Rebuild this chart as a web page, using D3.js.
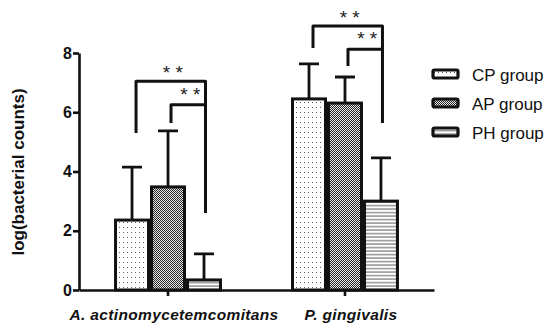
<!DOCTYPE html>
<html>
  <head>
    <style>
      body {
        margin: 0;
        background: #fff;
        font-family: "Liberation Sans", Arial, sans-serif;
      }
      .axis path, .axis line {
        stroke: #111;
        stroke-width: 2.6px;
      }
      .axis text {
        font-weight: bold;
        font-size: 16px;
        fill: #111;
      }
    </style>
  </head>
  <body>
    <script src="https://d3js.org/d3.v7.min.js"></script>
    <script>
    // data
      var categories = ["A. actinomycetemcomitans", "P. gingivalis"];
      var series = ["CP group", "AP group", "PH group"];
      var means = [[2.36, 3.48, 0.34], [6.45, 6.31, 3.0]];
      var errors = [[1.79, 1.89, 0.88], [1.18, 0.88, 1.46]];
      var yTicks = [0, 2, 4, 6, 8];
      // significance brackets: [top, left leg end, shared right leg end], in y units
      var bigBracket = [[7.05, 5.3, 2.6], [8.91, 8.17, 5.64]];
      var smallBracket = [[6.25, 5.64], [8.13, 7.56]];
      var starLabel = "* *";

      var width = 554, height = 324;
      var svg = d3.select("body").append("svg")
          .attr("width", width).attr("height", height);

    //patterns
      var defs = svg.append("defs");
      var p0 = defs.append("pattern").attr("id", "pat0")
          .attr("patternUnits", "userSpaceOnUse").attr("width", 4).attr("height", 5);
      p0.append("rect").attr("width", 4).attr("height", 5).attr("fill", "#fff");
      p0.append("rect").attr("x", 1).attr("y", 2).attr("width", 1).attr("height", 1).attr("fill", "#555");
      var p1 = defs.append("pattern").attr("id", "pat1")
          .attr("patternUnits", "userSpaceOnUse").attr("width", 2).attr("height", 2);
      p1.append("rect").attr("width", 2).attr("height", 2).attr("fill", "#eee");
      p1.append("rect").attr("width", 1).attr("height", 1).attr("fill", "#222");
      p1.append("rect").attr("x", 1).attr("y", 1).attr("width", 1).attr("height", 1).attr("fill", "#222");
      var p2 = defs.append("pattern").attr("id", "pat2")
          .attr("patternUnits", "userSpaceOnUse").attr("width", 4).attr("height", 3.5);
      p2.append("rect").attr("width", 4).attr("height", 3.5).attr("fill", "#fff");
      p2.append("rect").attr("y", 2).attr("width", 4).attr("height", 1.2).attr("fill", "#777");

    //scales
      var x0 = d3.scaleBand().domain(categories).range([79, 434])
          .paddingInner(0.39).paddingOuter(0.198);
      var x1 = d3.scaleBand().domain(series).range([0, x0.bandwidth()]);
      var y = d3.scaleLinear().domain([0, 8]).range([290, 53]);

    //axes
      svg.append("g").attr("class", "axis")
          .attr("transform", "translate(79,0)")
          .call(d3.axisLeft(y).tickValues(yTicks).tickSize(6).tickSizeOuter(0).tickPadding(1));
      var xg = svg.append("g").attr("class", "axis")
          .attr("transform", "translate(0,290)")
          .call(d3.axisBottom(x0).tickSize(6).tickSizeOuter(0).tickPadding(13));
      xg.selectAll("text")
          .attr("dx", 6)
          .style("font-style", "italic").style("font-size", "15.5px")
          .style("letter-spacing", "0.35px");

    //bars
      var groups = svg.selectAll(".grp").data(categories).enter().append("g")
          .attr("class", "grp")
          .attr("transform", d => "translate(" + x0(d) + ",0)");

      groups.each(function(cat, ci) {
        var g = d3.select(this);
        var rows = series.map((s, si) => ({s: s, si: si, m: means[ci][si], e: errors[ci][si]}));
        // error bars
        g.selectAll(".err").data(rows).enter().append("path")
            .attr("fill", "none").attr("stroke", "#111").attr("stroke-width", 2.8)
            .attr("d", d => {
              var cx = x1(d.s) + x1.bandwidth() / 2;
              return "M" + cx + "," + y(d.m) + "V" + y(d.m + d.e) +
                "M" + (cx - 10) + "," + y(d.m + d.e) + "H" + (cx + 10);
            });
        g.selectAll(".bar").data(rows).enter().append("rect")
            .attr("x", d => x1(d.s) + 1.5)
            .attr("width", x1.bandwidth() - 3)
            .attr("y", d => y(d.m))
            .attr("height", d => y(0) - y(d.m))
            .attr("fill", d => "url(#pat" + d.si + ")")
            .attr("stroke", "#111").attr("stroke-width", 3);

        // brackets
        var cxs = series.map(s => x1(s) + x1.bandwidth() / 2);
        var b = bigBracket[ci], sb = smallBracket[ci];
        var lx = cxs[0] + 4, mx = cxs[1] + 3, rx = cxs[2] + 1.5;
        g.append("path").attr("fill", "none").attr("stroke", "#111").attr("stroke-width", 3)
            .attr("stroke-linejoin", "round")
            .attr("d", "M" + lx + "," + y(b[1]) + "V" + y(b[0]) + "H" + rx + "V" + y(b[2]));
        g.append("path").attr("fill", "none").attr("stroke", "#111").attr("stroke-width", 3)
            .attr("stroke-linejoin", "round")
            .attr("d", "M" + mx + "," + y(sb[1]) + "V" + y(sb[0]) + "H" + rx);
        g.append("text").attr("x", (lx + rx) / 2 + 2).attr("y", y(b[0]) - 2)
            .attr("text-anchor", "middle").attr("font-size", 19).attr("fill", "#222")
            .text(starLabel);
        g.append("text").attr("x", (mx + rx) / 2 + 2).attr("y", y(sb[0]) - 4)
            .attr("text-anchor", "middle").attr("font-size", 19).attr("fill", "#222")
            .text(starLabel);
      });

    //y label
      svg.append("text")
          .attr("transform", "translate(24,172) rotate(-90)")
          .attr("text-anchor", "middle")
          .attr("font-weight", "bold").attr("font-size", 17).attr("fill", "#111")
          .text("log(bacterial counts)");

    //legend
      var legend = svg.selectAll(".leg").data(series).enter().append("g")
          .attr("transform", (d, i) => "translate(433," + (70 + i * 29) + ")");
      legend.append("rect")
          .attr("width", 25).attr("height", 8).attr("rx", 1.5)
          .attr("fill", (d, i) => "url(#pat" + i + ")")
          .attr("stroke", "#111").attr("stroke-width", 3.2);
      legend.append("text")
          .attr("x", 39).attr("y", 11)
          .attr("font-size", 17).attr("fill", "#111")
          .text(d => d);
    </script>
  </body>
</html>
